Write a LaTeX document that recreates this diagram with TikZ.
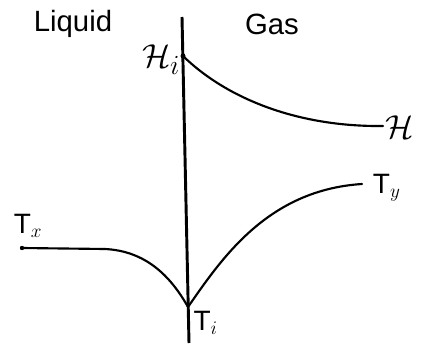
\documentclass[tikz,border=0pt]{standalone}
\usepackage{fontspec}
\setmainfont{Liberation Sans}
\usepackage{amsmath, amssymb}
\usetikzlibrary{calc}

\begin{document}
\begin{tikzpicture}[
  x=0.75pt, y=-0.75pt,
  wall/.style={line width=2.2pt},
  profile/.style={line width=1.6pt, line cap=round},
  lbl/.style={font=\fontsize{22}{26}\selectfont, inner sep=0pt},
  sym/.style={font=\fontsize{28}{32}\selectfont, inner sep=0pt},
  tsym/.style={font=\fontsize{21}{25}\selectfont, inner sep=0pt}
]
  \useasboundingbox (0,0) rectangle (432,346);

  \coordinate (top) at (182,17);
  \coordinate (bot) at (189,343);
  \coordinate (Hi) at (183,56);
  \coordinate (Hend) at (383,126);
  \coordinate (Ti) at (188,307);
  \coordinate (Txend) at (22,248);
  \coordinate (Tyend) at (362,184);

  \draw[wall] (top) -- (bot);

  \draw[profile] (Hi) .. controls (225,97) and (295,127) .. (Hend);
  \draw[profile] (Txend) -- (105,249) .. controls (145,251) and (170,275) .. (Ti);
  \draw[profile] (Ti) .. controls (222,258) and (268,190) .. (Tyend);
  \fill (Hi) circle (2.5);
  \fill (Txend) circle (2.2);

  \node[lbl] (liquid) at (73,24) {Liquid};
  \node[lbl] (gas) at (272,24) {Gas};
  \node[sym, anchor=east] (Hilabel) at (Hi) [xshift=-2pt, yshift=-3pt] {$\mathcal{H}_i$};
  \node[sym, anchor=west] (Hlabel) at (Hend) [xshift=2pt, yshift=-1pt] {$\mathcal{H}$};
  \node[tsym] (Tx) at (28,226) {T$_x$};
  \node[tsym, anchor=north west] (Tilabel) at (Ti) [xshift=4pt, yshift=-3pt] {T$_i$};
  \node[tsym, anchor=west] (Tylabel) at (Tyend) [xshift=8pt, yshift=-3pt] {T$_y$};
\end{tikzpicture}
\end{document}
